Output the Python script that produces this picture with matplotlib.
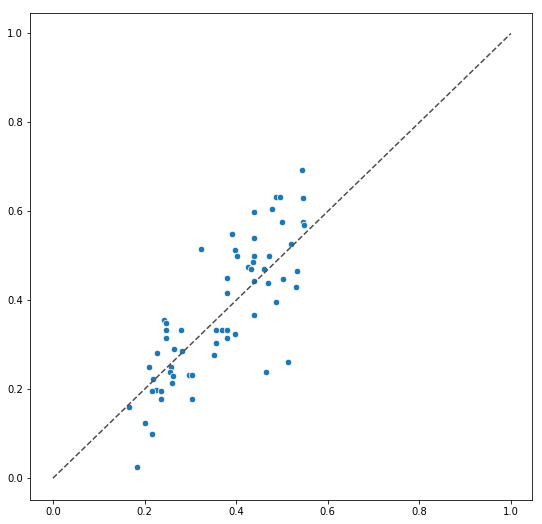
import matplotlib
matplotlib.use("Agg")
import matplotlib.pyplot as plt
import seaborn as sns
import numpy as np

x_vals = [
    0.243, 0.248, 0.247, 0.280, 0.247, 0.357, 0.357, 0.352, 0.265, 0.282,
    0.228, 0.210, 0.258, 0.256, 0.263, 0.219, 0.260, 0.298, 0.303, 0.226,
    0.217, 0.236, 0.236, 0.304, 0.167, 0.202, 0.217, 0.184,
    0.544, 0.488, 0.496, 0.547, 0.479, 0.440, 0.501, 0.547, 0.549, 0.392,
    0.440, 0.324, 0.520, 0.398, 0.402, 0.440, 0.472, 0.437, 0.426, 0.433,
    0.461, 0.533, 0.381, 0.440, 0.503, 0.470, 0.531, 0.381, 0.488, 0.440,
    0.370, 0.381, 0.398, 0.381, 0.514, 0.466,
]
y_vals = [
    0.355, 0.350, 0.334, 0.334, 0.316, 0.334, 0.305, 0.278, 0.291, 0.287,
    0.282, 0.251, 0.251, 0.238, 0.229, 0.222, 0.215, 0.233, 0.233, 0.199,
    0.195, 0.195, 0.179, 0.179, 0.161, 0.125, 0.100, 0.026,
    0.694, 0.633, 0.633, 0.631, 0.606, 0.599, 0.577, 0.575, 0.570, 0.550,
    0.541, 0.516, 0.527, 0.514, 0.500, 0.500, 0.500, 0.487, 0.476, 0.471,
    0.471, 0.467, 0.451, 0.444, 0.447, 0.438, 0.431, 0.417, 0.397, 0.368,
    0.334, 0.334, 0.325, 0.316, 0.262, 0.238,
]
diag = [0.0, 1.0]

fig = plt.figure(figsize=(542 / 72, 524 / 72), dpi=72)
ax = fig.add_axes([30 / 542, 24 / 524, 502 / 542, 487 / 524])

sns.scatterplot(x=x_vals, y=y_vals, ax=ax, color="#1f77b4", s=42,
                edgecolor="white", linewidth=0.75)
ax.plot(diag, diag, ls="--", color="0.3", lw=1.5)

ax.set_xticks([0.0, 0.2, 0.4, 0.6, 0.8, 1.0])
ax.set_yticks([0.0, 0.2, 0.4, 0.6, 0.8, 1.0])
ax.set_xlim(-0.05, 1.046)
ax.set_ylim(-0.049, 1.046)
ax.tick_params(labelsize=10)

fig.savefig("out.png", dpi=72)
